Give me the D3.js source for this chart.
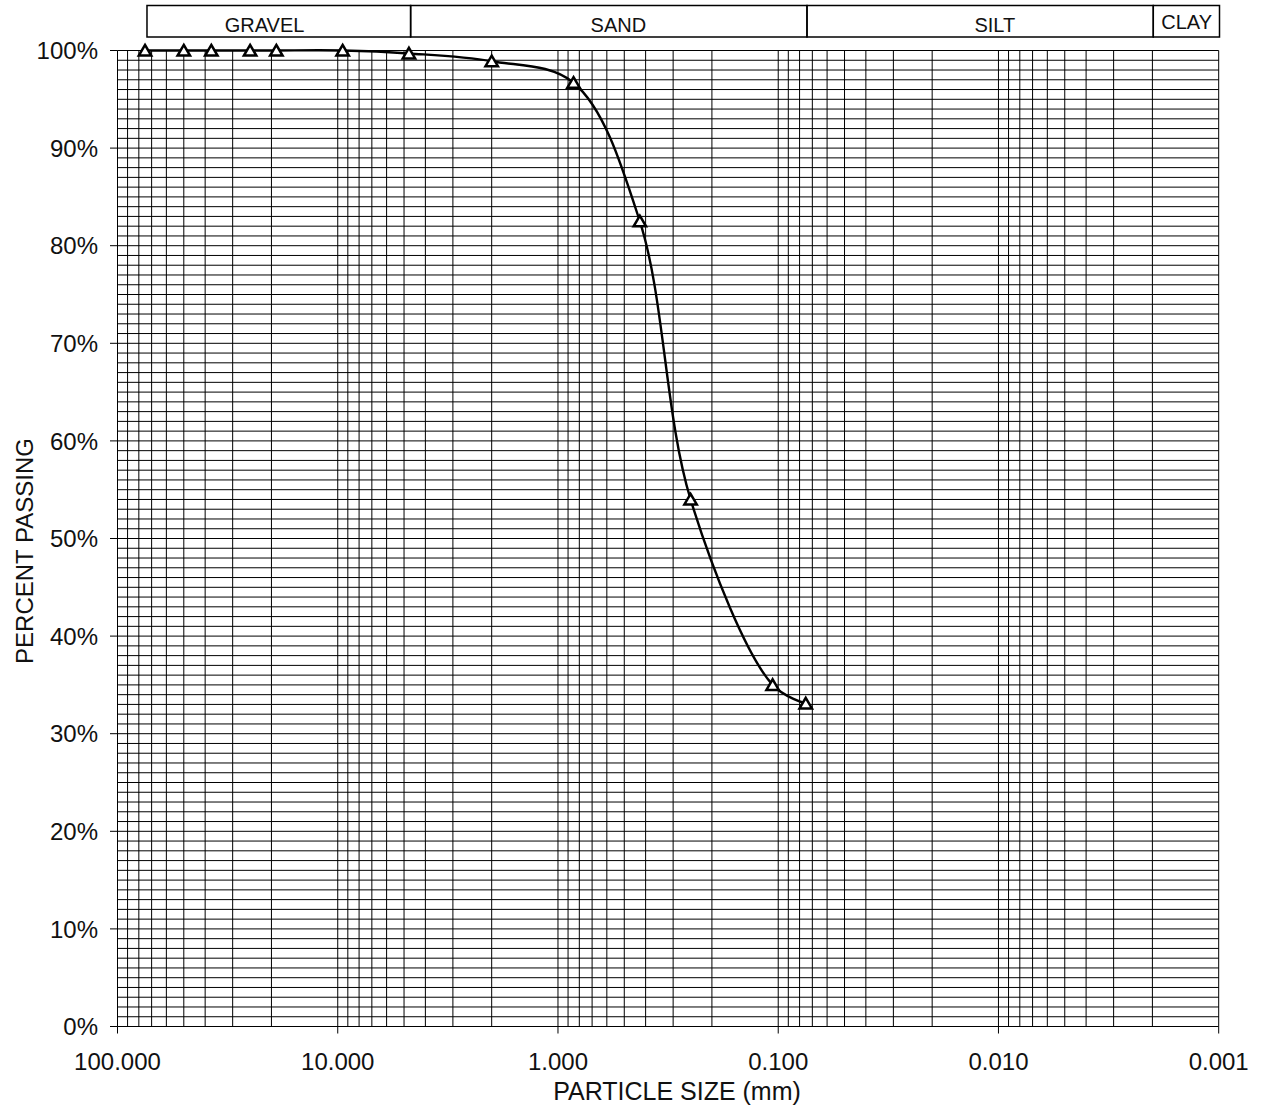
<!DOCTYPE html>
<html>
<head>
<meta charset="utf-8">
<script src="https://cdn.jsdelivr.net/npm/d3@7"></script>
<style>
  html, body { margin: 0; padding: 0; background: #fff; }
  svg { display: block; font-family: "Liberation Sans", Arial, sans-serif; }
</style>
</head>
<body>
<svg id="chart" width="1263" height="1109"></svg>
<script>
// ---- data ----
const sieveSizes = [75, 50, 37.5, 25, 19, 9.5, 4.75, 2.0, 0.85, 0.425, 0.25, 0.106, 0.075];
const percentPassing = [100, 100, 100, 100, 100, 100, 99.7, 98.9, 96.7, 82.5, 54.0, 35.0, 33.1];
const yTickValues = [0, 10, 20, 30, 40, 50, 60, 70, 80, 90, 100];
const xTickValues = [100, 10, 1, 0.1, 0.01, 0.001];
const zoneNames = ["GRAVEL", "SAND", "SILT", "CLAY"];
const zoneBounds = [75, 4.75, 0.075, 0.002, 0.001];
const zoneLabelAt = [21.9, 0.54, 0.0105, 0.00141];

// ---- layout ----
const svg = d3.select("#chart");
const x = d3.scaleLog().domain([100, 0.001]).range([117.5, 1218.7]);
const xHeader = d3.scaleLog().domain([100, 0.001]).range([119.5, 1219.5]);
const y = d3.scaleLinear().domain([0, 100]).range([1026.5, 50.5]);

// minor log grid values
const vGrid = [];
for (let e = 1; e >= -3; e--) {
  for (let m = 9; m >= 1; m--) vGrid.push(m * Math.pow(10, e));
}
vGrid.unshift(100);

const grid = svg.append("g").attr("stroke", "#000").attr("stroke-width", 1);
grid.selectAll("line.h").data(d3.range(0, 101, 1)).join("line")
  .attr("class", "h")
  .attr("x1", x(100)).attr("x2", x(0.001))
  .attr("y1", d => y(d)).attr("y2", d => y(d));
grid.selectAll("line.v").data(vGrid).join("line")
  .attr("class", "v")
  .attr("x1", d => x(d)).attr("x2", d => x(d))
  .attr("y1", y(0)).attr("y2", y(100));

// y axis ticks + labels
const yAxis = svg.append("g");
yAxis.selectAll("line").data(yTickValues).join("line")
  .attr("x1", x(100) - 7.5).attr("x2", x(100))
  .attr("y1", d => y(d)).attr("y2", d => y(d))
  .attr("stroke", "#000").attr("stroke-width", 1);
yAxis.selectAll("text").data(yTickValues).join("text")
  .attr("x", 98).attr("y", d => y(d)).attr("dy", "0.36em")
  .attr("text-anchor", "end").attr("font-size", 24).attr("fill", "#111")
  .text(d => d + "%");

// x axis ticks + labels
const xAxis = svg.append("g");
xAxis.selectAll("line").data(xTickValues).join("line")
  .attr("x1", d => x(d)).attr("x2", d => x(d))
  .attr("y1", y(0)).attr("y2", y(0) + 7)
  .attr("stroke", "#000").attr("stroke-width", 1);
xAxis.selectAll("text").data(xTickValues).join("text")
  .attr("x", d => x(d)).attr("y", 1070)
  .attr("text-anchor", "middle").attr("font-size", 24).attr("fill", "#111")
  .text(d => d3.format(".3f")(d));

// axis titles
svg.append("text")
  .attr("x", 677).attr("y", 1100)
  .attr("text-anchor", "middle").attr("font-size", 25).attr("fill", "#111")
  .text("PARTICLE SIZE (mm)");
svg.append("text")
  .attr("transform", "translate(33,551) rotate(-90)")
  .attr("text-anchor", "middle").attr("font-size", 24).attr("fill", "#111")
  .text("PERCENT PASSING");

// header zone boxes
const header = svg.append("g");
const zones = zoneNames.map((n, i) => ({ name: n, from: zoneBounds[i], to: zoneBounds[i + 1], at: zoneLabelAt[i] }));
header.selectAll("rect").data(zones).join("rect")
  .attr("x", d => xHeader(d.from)).attr("width", d => xHeader(d.to) - xHeader(d.from))
  .attr("y", 5.5).attr("height", 31.5)
  .attr("fill", "none").attr("stroke", "#000").attr("stroke-width", 1.5);
header.selectAll("text").data(zones).join("text")
  .attr("x", d => xHeader(d.at))
  .attr("y", d => d.name === "CLAY" ? 28.5 : 32)
  .attr("text-anchor", "middle").attr("font-size", 20).attr("fill", "#111")
  .text(d => d.name);

// gradation curve
const pts = sieveSizes.map((s, i) => ({ size: s, p: percentPassing[i] }));
const line = d3.line().x(d => x(d.size)).y(d => y(d.p)).curve(d3.curveCatmullRom.alpha(0.5));
svg.append("path").datum(pts)
  .attr("d", line)
  .attr("fill", "none").attr("stroke", "#000").attr("stroke-width", 2.4);

// triangle markers
svg.append("g").selectAll("path").data(pts).join("path")
  .attr("transform", d => `translate(${x(d.size)},${y(d.p)})`)
  .attr("d", "M0,-5.6L6.2,5L-6.2,5Z")
  .attr("fill", "#fff").attr("stroke", "#000").attr("stroke-width", 2.5)
  .attr("stroke-linejoin", "miter");
</script>
</body>
</html>
